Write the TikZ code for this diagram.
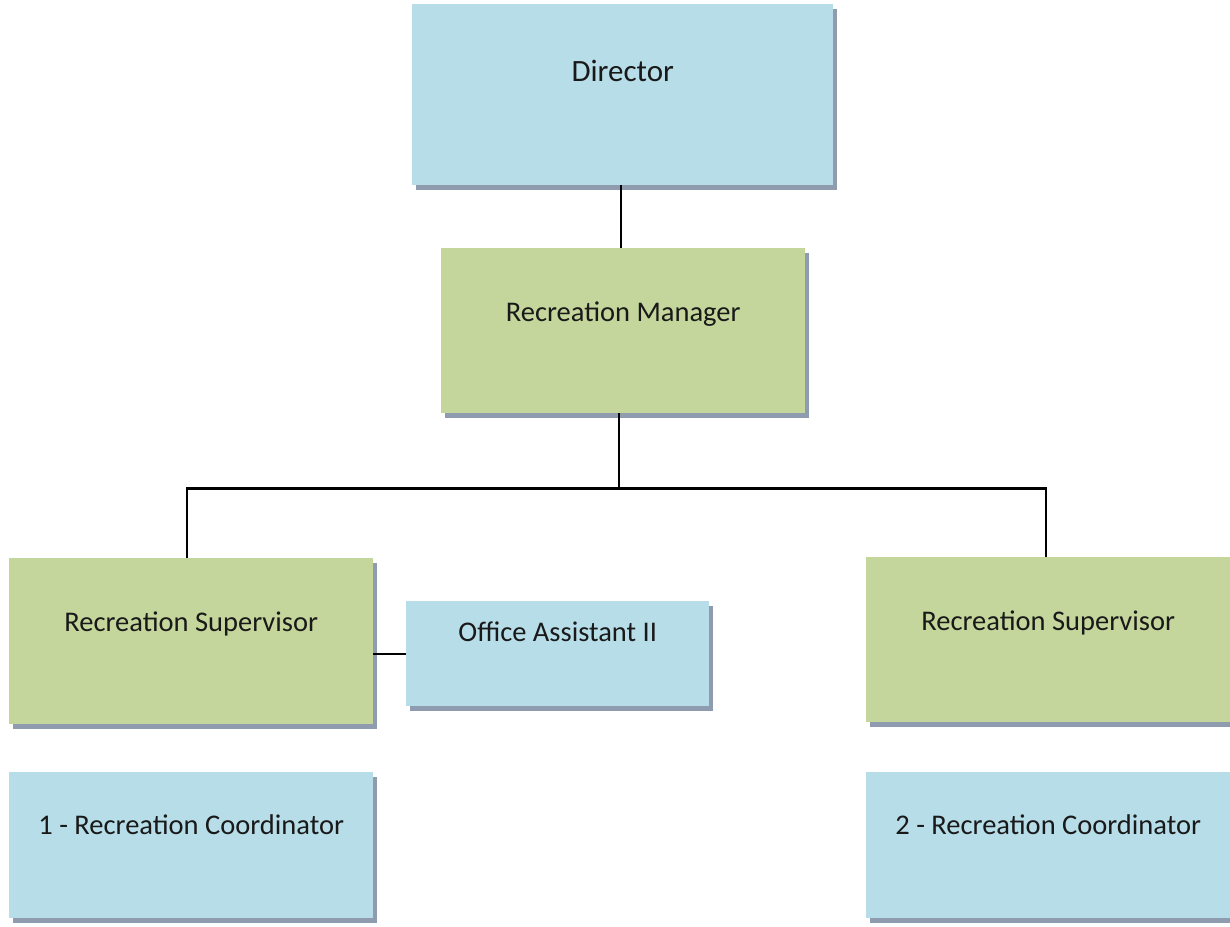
\documentclass[tikz,border=0pt]{standalone}
\usepackage{fontspec}
\setmainfont{Carlito}
\usetikzlibrary{shadows}
\definecolor{aquabox}{HTML}{B7DDE8}
\definecolor{olivebox}{HTML}{C4D69B}
\definecolor{boxshadow}{HTML}{8F9CB0}
\tikzset{
  orgbox/.style={rectangle, draw=none, inner sep=0pt, anchor=north west,
    drop shadow={shadow xshift=3.5pt, shadow yshift=-4.5pt, fill=boxshadow, opacity=1}},
  bluebox/.style={orgbox, fill=aquabox},
  greenbox/.style={orgbox, fill=olivebox},
  lbl/.style={anchor=base, inner sep=0pt, text=black!90, font=\fontsize{28.5}{34}\selectfont},
  biglbl/.style={lbl, font=\fontsize{31}{37}\selectfont},
  link/.style={draw=black, line width=2.2pt}
}
\begin{document}
\begin{tikzpicture}[x=1pt, y={(0pt,-1pt)}]
  \useasboundingbox (0,0) rectangle (1230,926);

  % boxes
  \node[bluebox, minimum width=421pt, minimum height=181pt] (dir) at (412,4) {};
  \node[greenbox, minimum width=364pt, minimum height=165pt] (mgr) at (441,248) {};
  \node[greenbox, minimum width=364pt, minimum height=166pt] (supL) at (9,558) {};
  \node[greenbox, minimum width=364pt, minimum height=165pt] (supR) at (866,557) {};
  \node[bluebox, minimum width=303pt, minimum height=105pt] (oa) at (406,601) {};
  \node[bluebox, minimum width=364pt, minimum height=146pt] (coL) at (9,772) {};
  \node[bluebox, minimum width=364pt, minimum height=146pt] (coR) at (866,772) {};

  % titles
  \node[biglbl] (tdir) at ([yshift=-77pt]dir.north) {Director};
  \node[lbl] (tmgr) at ([yshift=-73pt]mgr.north) {Recreation Manager};
  \node[lbl] (tsupL) at ([yshift=-73pt]supL.north) {Recreation Supervisor};
  \node[lbl] (tsupR) at ([yshift=-73pt]supR.north) {Recreation Supervisor};
  \node[lbl] (toa) at ([yshift=-40pt]oa.north) {Office Assistant II};
  \node[lbl] (tcoL) at ([yshift=-62pt]coL.north) {1 - Recreation Coordinator};
  \node[lbl] (tcoR) at ([yshift=-62pt]coR.north) {2 - Recreation Coordinator};

  % reporting lines
  \draw[link] ([xshift=-1.5pt]dir.south) -- ([xshift=-1.5pt]dir.south |- mgr.north);
  \draw[link] ([xshift=-4pt]mgr.south) -- ++(0,75) coordinate (bus);
  \draw[link] (bus) -| ([xshift=-4pt]supL.north);
  \draw[link] (bus) -| ([xshift=-2pt]supR.north);
  \draw[link] (oa.west) -- (oa.west -| supL.east);
\end{tikzpicture}
\end{document}
